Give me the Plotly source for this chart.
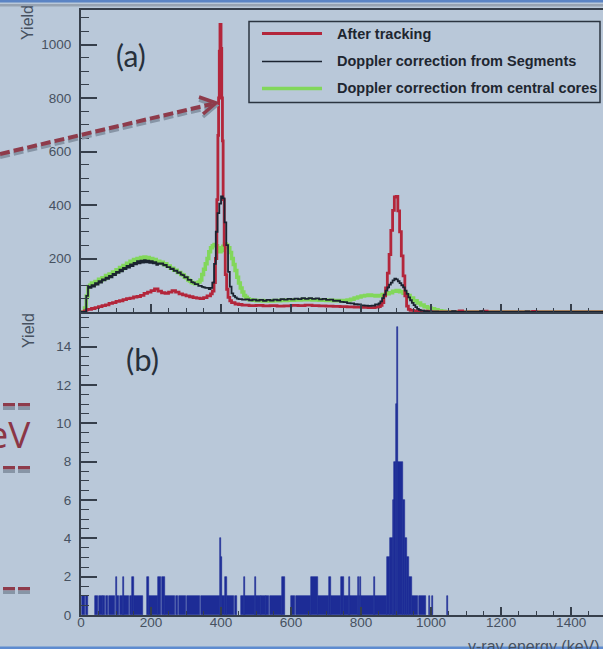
import plotly.graph_objects as go

# ---------------- data ----------------
x_ticks = [0, 200, 400, 600, 800, 1000, 1200, 1400]
a_yticks = [200, 400, 600, 800, 1000]
b_yticks = [0, 2, 4, 6, 8, 10, 12, 14]
E_MAX = 1491

# After tracking (red) : bin left edges and contents
red_x = [0, 10, 15, 20, 30, 40, 50, 60, 70, 80, 90, 100, 110, 120, 130, 140, 150, 160, 170, 180,
         190, 200, 210, 220, 230, 240, 250, 260, 270, 280, 290, 300, 310, 320, 330, 340, 350, 360,
         370, 375, 380, 384, 388, 391, 393, 395, 397, 400, 402, 404, 406, 409, 412, 416, 420, 425,
         430, 440, 450, 460, 480, 500, 520, 540, 560, 580, 600, 620, 640, 660, 680, 700, 720, 740,
         760, 780, 800, 820, 840, 850, 855, 860, 865, 870, 875, 880, 885, 890, 895, 900, 905, 910,
         915, 920, 925, 930, 935, 940, 950, 970, 990, 1000, 1080, 1090, 1150, 1160, 1290, 1300]
red_y = [0, 4, 8, 10, 13, 16, 20, 24, 27, 32, 35, 40, 42, 46, 50, 52, 56, 58, 62, 70,
         74, 80, 86, 78, 72, 70, 74, 80, 74, 68, 64, 60, 57, 54, 52, 50, 54, 60,
         68, 78, 110, 200, 420, 660, 800, 975, 1075, 985, 800, 640, 420, 250, 140, 85, 55, 42,
         35, 30, 28, 26, 24, 25, 23, 24, 22, 23, 25, 24, 26, 24, 23, 22, 21, 20,
         19, 18, 17, 16, 18, 20, 25, 35, 60, 90, 145, 215, 305, 380, 430, 432, 378, 300,
         210, 135, 60, 22, 10, 6, 4, 3, 2, 0, 4, 0, 3, 0, 2, 0]

# Doppler correction from Segments (black)
blk_x1 = list(range(15, 450, 5))
blk_y1 = [60, 95, 90, 100, 95, 108, 102, 115, 110, 122, 118, 128, 124, 135, 130, 142, 138, 150,
          146, 158, 152, 165, 160, 172, 166, 178, 172, 184, 178, 190, 182, 192, 185, 194, 186, 192,
          184, 190, 182, 186, 176, 182, 180, 182, 174, 176, 168, 168, 160, 162, 154, 155, 146, 148,
          140, 138, 130, 130, 120, 120, 112, 110, 104, 104, 98, 98, 94, 92, 90, 90, 86,
          90, 110, 180, 300, 370, 405, 432, 425, 335, 250, 150, 95, 70, 60, 55, 50]
blk_x2 = list(range(450, 850, 10))
blk_y2 = [48, 46, 47, 44, 46, 43, 45, 42, 45, 43, 46, 44, 48, 46, 49, 47, 50, 48, 52, 49,
          52, 49, 51, 47, 49, 45, 46, 42, 42, 38, 37, 33, 32, 29, 28, 25, 24, 23, 24, 28]
blk_x3 = list(range(850, 970, 5))
blk_y3 = [32, 40, 52, 65, 80, 92, 102, 110, 118, 125, 122, 115, 108, 100, 92, 80, 68, 55,
          44, 34, 26, 18, 12, 8]
blk_x4 = [970, 980, 990, 1000, 1020, 1060, 1070, 1140, 1150, 1270, 1280]
blk_y4 = [5, 3, 2, 1, 0, 3, 0, 3, 0, 2, 0]

# Doppler correction from central cores (green)
grn_x1 = list(range(10, 480, 5))
grn_y1 = [15, 60, 95, 100, 108, 104, 114, 110, 122, 118, 128, 124, 136, 132, 142, 140, 150, 147,
          158, 154, 166, 162, 174, 170, 182, 178, 190, 186, 196, 192, 200, 196, 204, 200, 206, 200,
          204, 198, 200, 194, 196, 188, 190, 184, 186, 178, 180, 172, 172, 164, 164, 156, 156, 148,
          148, 140, 138, 130, 128, 120, 116, 110, 108, 106, 108, 112, 120, 140, 160, 180, 200, 225,
          240, 248, 252, 248, 240, 225, 230, 246, 254, 250, 240, 222, 200, 178, 155, 130, 108, 90,
          75, 62, 55, 50]
grn_x2 = list(range(480, 1050, 10))
grn_y2 = [46, 44, 42, 43, 41, 42, 41, 43, 42, 44, 43, 45, 44, 46, 45, 47, 46, 47, 45, 46,
          44, 45, 43, 44, 42, 43, 42, 43, 45, 48, 52, 56, 60, 62, 64, 62, 60, 62, 65, 68,
          72, 78, 80, 76, 70, 62, 52, 42, 34, 26, 20, 15, 12, 8, 5, 3, 1]

# Panel (b): runs of bins (low edge, high edge, counts)
b_lo = [3, 13, 40, 51, 64, 70.5, 79.5, 99, 104, 111.5, 120, 124, 139.5, 147, 151, 189, 193, 221,
        230.5, 241, 270.5, 279.5, 302.5, 342.5, 396, 399, 403, 410, 418, 438.5, 457, 465, 469, 496,
        500, 515.5, 529.5, 539.5, 573, 600, 613.5, 657, 677, 709, 713, 742, 752, 765, 769, 791,
        795, 797, 801, 836, 840, 875, 884, 891, 895, 900, 904, 906.5, 921, 926, 931, 937, 946,
        964.5, 993, 1002, 1045.5]
b_hi = [11, 21, 49, 62, 68, 77, 97, 104, 109, 120, 124, 137, 147, 151, 176, 193, 221, 228,
        241, 268, 277, 300, 340, 396, 399, 403, 410, 418, 436, 446, 465, 469, 496, 500,
        513, 527, 537, 573, 583, 611, 657, 677, 709, 713, 742, 752, 765, 769, 791, 795,
        797, 801, 836, 840, 875, 884, 891, 895, 900, 904, 906.5, 921, 926, 931, 937, 946, 962,
        984, 996, 1004, 1048.5]
b_cnt = [1, 1, 1, 1, 1, 1, 1, 2, 1, 1, 2, 1, 1, 2, 1, 2, 1, 2,
         2, 1, 1, 1, 1, 1, 4, 3, 1, 2, 1, 1, 1, 2, 1, 2,
         1, 1, 1, 1, 2, 1, 1, 2, 1, 2, 1, 2, 1, 2, 1, 2,
         1, 2, 1, 2, 1, 3, 4, 6, 8, 11, 15, 8, 6, 4, 3, 2, 1,
         1, 1, 1, 1]

for a, b in [(red_x, red_y), (blk_x1, blk_y1), (blk_x2, blk_y2), (blk_x3, blk_y3),
             (blk_x4, blk_y4), (grn_x1, grn_y1), (grn_x2, grn_y2), (b_lo, b_hi), (b_lo, b_cnt)]:
    assert len(a) == len(b), (len(a), len(b))

blk_x = [0] + blk_x1 + blk_x2 + blk_x3 + blk_x4
blk_y = [0] + blk_y1 + blk_y2 + blk_y3 + blk_y4
grn_x = [0] + grn_x1 + grn_x2 + [1050]
grn_y = [0] + grn_y1 + grn_y2 + [0]

# ---------------- styling ----------------
W, H = 603, 649
ML, MR, MT, MB = 81, 0, 10, 34
PW, PH = W - ML - MR, H - MT - MB

def fx(p):
    return (p - ML) / PW

def fy(p):
    return (H - MB - p) / PH

BG = "#b9c8d9"
AXC = "#363f4b"
TXC = "#465160"
RED = "#b3263b"
BLK = "#1b2330"
GRN = "#82d75b"
BLU = "#1d2c96"
TICKFONT = dict(family="Liberation Sans, Arial", size=13.5, color=TXC)

def step(xs, ys):
    return xs + [E_MAX], ys + [ys[-1]]

fig = go.Figure()
gx, gy = step(grn_x, grn_y)
fig.add_trace(go.Scatter(x=gx, y=gy, mode="lines", line=dict(color=GRN, width=3.5, shape="hv"),
                         name="Doppler correction from central cores", xaxis="x", yaxis="y"))
rx, ry = step(red_x, red_y)
fig.add_trace(go.Scatter(x=rx, y=ry, mode="lines", line=dict(color=RED, width=2.8, shape="hv"),
                         name="After tracking", xaxis="x", yaxis="y"))
bx, by = step(blk_x, blk_y)
fig.add_trace(go.Scatter(x=bx, y=by, mode="lines", line=dict(color=BLK, width=1.8, shape="hv"),
                         name="Doppler correction from Segments", xaxis="x", yaxis="y"))

b_mid = [(l + h) / 2 for l, h in zip(b_lo, b_hi)]
b_w = [h - l for l, h in zip(b_lo, b_hi)]
fig.add_trace(go.Bar(x=b_mid, y=b_cnt, width=b_w,
                     marker=dict(color=BLU, line=dict(width=0.6, color=BLU)),
                     xaxis="x2", yaxis="y2", name="b"))

xcommon = dict(range=[0, E_MAX], tickmode="array", tickvals=x_ticks, ticks="inside", ticklen=8,
               tickwidth=1.5, tickcolor=AXC, showline=True, linecolor=AXC, linewidth=2,
               mirror=True, showgrid=False, zeroline=False,
               minor=dict(ticks="inside", dtick=50, tick0=0, ticklen=4, tickwidth=1.2,
                          tickcolor=AXC, showgrid=False))
ycommon = dict(ticks="inside", ticklen=16, tickwidth=1.5, tickcolor=AXC, showline=True,
               linecolor=AXC, linewidth=2, showgrid=False, zeroline=False, tickmode="array",
               tickfont=TICKFONT, ticklabelstandoff=5)

fig.update_layout(
    width=W, height=H, margin=dict(l=ML, r=MR, t=MT, b=MB),
    paper_bgcolor=BG, plot_bgcolor=BG, showlegend=False, bargap=0,
    xaxis=dict(domain=[0, 1], anchor="y", showticklabels=False, **xcommon),
    yaxis=dict(domain=[fy(312), 1], anchor="x", range=[0, 1129], tickvals=a_yticks,
               minor=dict(ticks="inside", dtick=50, tick0=0, ticklen=8, tickwidth=1.2,
                          tickcolor=AXC, showgrid=False), **ycommon),
    xaxis2=dict(domain=[0, 1], anchor="y2", showticklabels=True, tickfont=TICKFONT,
                ticklabelstandoff=-6, **xcommon),
    yaxis2=dict(domain=[0, fy(314)], anchor="x2", range=[0, 15.7], tickvals=b_yticks,
                minor=dict(ticks="inside", dtick=0.5, tick0=0, ticklen=8, tickwidth=1.2,
                           tickcolor=AXC, showgrid=False), **ycommon),
)

shapes = []
ann = []

# legend box (drawn by hand)
shapes.append(dict(type="rect", xref="paper", yref="paper", x0=fx(249), x1=fx(600),
                   y0=fy(102.5), y1=fy(21.5), line=dict(color="#2b3440", width=1.5)))
leg = [("After tracking", RED, 3, 33.5), ("Doppler correction from Segments", BLK, 1.6, 61.5),
       ("Doppler correction from central cores", GRN, 3.5, 88.5)]
for txt, col, wd, yy in leg:
    shapes.append(dict(type="line", xref="paper", yref="paper", x0=fx(262), x1=fx(322),
                       y0=fy(yy), y1=fy(yy), line=dict(color=col, width=wd)))
    ann.append(dict(text="<b>%s</b>" % txt, xref="paper", yref="paper", x=fx(335), y=fy(yy),
                    xanchor="left", yanchor="middle", showarrow=False,
                    font=dict(family="Liberation Sans, Arial", size=14.5, color="#1e2630")))

# panel labels
ann.append(dict(text="(a)", xref="paper", yref="paper", x=fx(131), y=fy(55), showarrow=False,
                xanchor="center", yanchor="middle",
                font=dict(family="Lato, Open Sans", size=30, color="#27303b")))
ann.append(dict(text="(b)", xref="paper", yref="paper", x=fx(142), y=fy(359), showarrow=False,
                xanchor="center", yanchor="middle",
                font=dict(family="Lato, Open Sans", size=31, color="#27303b")))

# axis titles
TF = dict(family="Liberation Sans, Arial", size=16, color=TXC)
ann.append(dict(text="Yield", xref="paper", yref="paper", x=fx(27), y=fy(23), textangle=-90,
                showarrow=False, xanchor="center", yanchor="middle", font=TF))
ann.append(dict(text="Yield", xref="paper", yref="paper", x=fx(28), y=fy(331), textangle=-90,
                showarrow=False, xanchor="center", yanchor="middle", font=TF))
ann.append(dict(text="γ-ray energy (keV)", xref="paper", yref="paper", x=fx(466), y=fy(646),
                showarrow=False, xanchor="left", yanchor="middle", font=TF))

# slide decorations around the chart
shapes.append(dict(type="rect", xref="paper", yref="paper", x0=fx(0), x1=fx(603),
                   y0=fy(2.5), y1=fy(0), line=dict(width=0), fillcolor="#5b84c4"))
shapes.append(dict(type="rect", xref="paper", yref="paper", x0=fx(0), x1=fx(603),
                   y0=fy(6.5), y1=fy(4), line=dict(width=0), fillcolor="#97a3b2"))
shapes.append(dict(type="rect", xref="paper", yref="paper", x0=fx(0), x1=fx(603),
                   y0=fy(649), y1=fy(646.5), line=dict(width=0), fillcolor="#5d8bd0"))

SH = "#8795a6"
DR = "#8e3b4b"
for dy, col in [(3, SH), (0, DR)]:
    shapes.append(dict(type="line", xref="paper", yref="paper", x0=fx(0), y0=fy(154 + dy),
                       x1=fx(212), y1=fy(104 + dy),
                       line=dict(color=col, width=4, dash="10px,4px")))
    shapes.append(dict(type="path", xref="paper", yref="paper",
                       path="M %f,%f L %f,%f L %f,%f" % (fx(199), fy(97 + dy), fx(216), fy(103 + dy),
                                                         fx(203), fy(114 + dy)),
                       line=dict(color=col, width=3.5)))
for yy in [403, 466, 587]:
    for x0, x1 in [(3, 15), (18, 30)]:
        shapes.append(dict(type="rect", xref="paper", yref="paper", x0=fx(x0), x1=fx(x1),
                           y0=fy(406.5 + yy - 403), y1=fy(yy), line=dict(width=0), fillcolor=DR))
        shapes.append(dict(type="rect", xref="paper", yref="paper", x0=fx(x0), x1=fx(x1),
                           y0=fy(410 + yy - 403), y1=fy(406.5 + yy - 403), line=dict(width=0),
                           fillcolor=SH))
ann.append(dict(text="keV", xref="paper", yref="paper", x=fx(33), y=fy(434), showarrow=False,
                xanchor="right", yanchor="middle",
                font=dict(family="Open Sans, Lato", size=37, color="#8b3646")))

fig.update_layout(shapes=shapes, annotations=ann)
fig.write_html("out.html")
